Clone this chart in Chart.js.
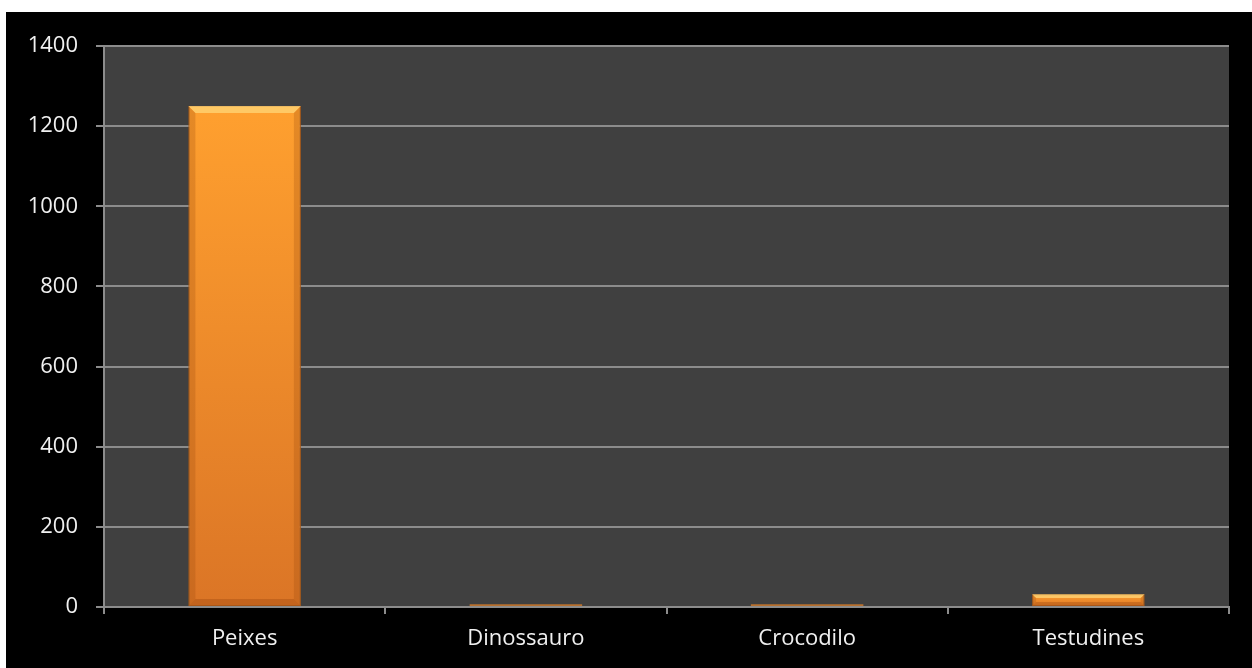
<!DOCTYPE html>
<html>
<head>
<meta charset="utf-8">
<script src="https://cdn.jsdelivr.net/npm/chart.js@4.4.0/dist/chart.umd.min.js"></script>
<style>
  html, body { margin: 0; padding: 0; background: #fff; }
  #wrap { position: absolute; left: 6px; top: 12px; width: 1246px; height: 656px; background: #000; }
</style>
</head>
<body>
<div id="wrap"><canvas id="grafico"></canvas></div>
<script>
// ── Dados ─────────────────────────────────────────────
const categorias = ['Peixes', 'Dinossauro', 'Crocodilo', 'Testudines'];
const valores = [1250, 7, 7, 32];
const yMin = 0, yMax = 1400, yPasso = 200;

// altura da barra em px (para decidir o estilo)
function alturaBarra(ctx) {
  const ys = ctx.chart.scales.y;
  if (!ctx.chart.chartArea || !ys) return 0;
  const h = ys.getPixelForValue(0) - ys.getPixelForValue(ctx.raw);
  return isFinite(h) ? h : 0;
}

// gradiente por barra (claro em cima, escuro em baixo)
function corBarra(ctx) {
  const chart = ctx.chart;
  if (alturaBarra(ctx) < 4) return '#b8702e';
  const ys = chart.scales.y;
  const g = chart.ctx.createLinearGradient(0, ys.getPixelForValue(ctx.raw), 0, ys.getPixelForValue(0));
  g.addColorStop(0, '#ffa02f');
  g.addColorStop(1, '#db7526');
  return g;
}

// fundo cinza da área do gráfico
const fundoPlot = {
  id: 'fundoPlot',
  beforeDraw(chart) {
    const { ctx, chartArea: a } = chart;
    ctx.save();
    ctx.fillStyle = '#404040';
    ctx.fillRect(a.left, a.top, a.right - a.left, a.bottom - a.top);
    ctx.restore();
  }
};

// chanfro nas barras
const chanfro = {
  id: 'chanfro',
  afterDatasetsDraw(chart) {
    const ctx = chart.ctx;
    chart.getDatasetMeta(0).data.forEach(bar => {
      const h = bar.base - bar.y;
      if (h < 4) return;
      const l = bar.x - bar.width / 2, r = bar.x + bar.width / 2;
      const b = Math.min(7, h / 3);
      ctx.save();
      // topo claro
      ctx.fillStyle = 'rgba(255,215,120,0.75)';
      ctx.beginPath();
      ctx.moveTo(l, bar.y); ctx.lineTo(r, bar.y); ctx.lineTo(r - b, bar.y + b); ctx.lineTo(l + b, bar.y + b);
      ctx.closePath(); ctx.fill();
      // laterais escuras
      ctx.fillStyle = 'rgba(150,70,10,0.25)';
      ctx.beginPath();
      ctx.moveTo(l, bar.y); ctx.lineTo(l + b, bar.y + b); ctx.lineTo(l + b, bar.base - b); ctx.lineTo(l, bar.base);
      ctx.closePath(); ctx.fill();
      ctx.beginPath();
      ctx.moveTo(r, bar.y); ctx.lineTo(r - b, bar.y + b); ctx.lineTo(r - b, bar.base - b); ctx.lineTo(r, bar.base);
      ctx.closePath(); ctx.fill();
      // base escura
      ctx.fillStyle = 'rgba(140,60,10,0.3)';
      ctx.beginPath();
      ctx.moveTo(l, bar.base); ctx.lineTo(r, bar.base); ctx.lineTo(r - b, bar.base - b); ctx.lineTo(l + b, bar.base - b);
      ctx.closePath(); ctx.fill();
      ctx.restore();
    });
  }
};

const fonte = { family: '"Open Sans", Lato, sans-serif', size: 22 };

new Chart(document.getElementById('grafico'), {
  type: 'bar',
  data: {
    labels: categorias,
    datasets: [{
      data: valores,
      backgroundColor: corBarra,
      borderColor: ctx => alturaBarra(ctx) < 4 ? '#b8702e' : '#b9641c',
      borderWidth: ctx => alturaBarra(ctx) < 4 ? 0 : 1,
      borderSkipped: false,
      barPercentage: 0.4,
      categoryPercentage: 1
    }]
  },
  options: {
    responsive: true,
    maintainAspectRatio: false,
    animation: false,
    layout: { padding: { top: 34, right: 23 } },
    plugins: { legend: { display: false }, tooltip: { enabled: false } },
    scales: {
      x: {
        afterFit: s => { s.height = 61; },
        grid: { drawOnChartArea: false, drawTicks: true, tickLength: 7, color: '#8c8c8c', lineWidth: 2 },
        border: { color: '#8c8c8c', width: 2 },
        ticks: { color: '#f0f0f0', font: fonte, padding: 12 }
      },
      y: {
        min: yMin, max: yMax,
        afterFit: s => { s.width = 98; },
        grid: { color: '#8c8c8c', lineWidth: 2, tickLength: 8 },
        border: { color: '#8c8c8c', width: 2 },
        ticks: { stepSize: yPasso, color: '#f0f0f0', font: fonte, padding: 18, callback: v => String(v) }
      }
    }
  },
  plugins: [fundoPlot, chanfro]
});
</script>
</body>
</html>
